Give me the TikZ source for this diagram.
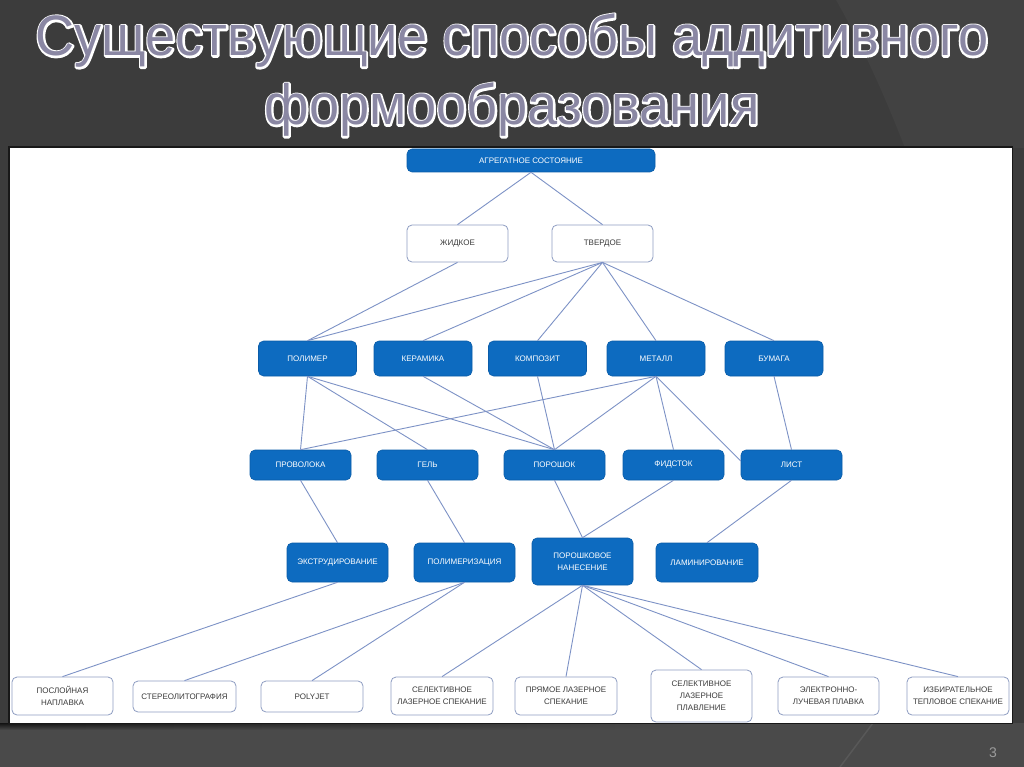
\documentclass[tikz,border=0pt]{standalone}
\usepackage{fontspec}
\setmainfont{Liberation Sans}
\newfontfamily\ttlfont[FakeStretch=0.95]{Liberation Sans}
\usetikzlibrary{calc,fadings}
\definecolor{bgdark}{HTML}{3C3C3C}
\definecolor{bgbottom}{HTML}{4A4A4A}
\definecolor{bgright}{HTML}{424242}
\definecolor{bfill}{HTML}{0D6BC0}
\definecolor{bdraw}{HTML}{0A5CA8}
\definecolor{wdraw}{HTML}{8E9DC2}
\definecolor{wtext}{HTML}{3A3A3A}
\definecolor{linkc}{HTML}{7D92C6}
\definecolor{ttlfill}{HTML}{8A87A3}
\definecolor{pagenum}{HTML}{9C9C9C}
\newcommand\strokedtext[1]{\special{pdf:literal direct 1 1 1 RG 3.6 w 1 j 1 Tr}#1\special{pdf:literal direct 0 Tr}}
\begin{document}
\begin{tikzpicture}[x=1pt,y=-1pt,
  nfont/.style={font=\fontsize{8}{12}\selectfont},
  wh/.style 2 args={minimum width=#1pt, minimum height=#2pt},
  bnode/.style={nfont, draw=bdraw, fill=bfill, text=white, rounded corners=5pt, align=center, inner sep=0pt, line width=0.6pt},
  wnode/.style={nfont, draw=wdraw, fill=white, text=wtext, rounded corners=5pt, align=center, inner sep=0pt, line width=0.8pt},
  link/.style={draw=linkc, line width=0.9pt},
  ttl/.style={font=\ttlfont\fontsize{57}{60}\selectfont, anchor=base, inner sep=0pt, text=ttlfill}
]
\useasboundingbox (0,0) rectangle (1024,767);
% background
\fill[bgdark] (0,0) rectangle (1024,767);
\fill[bgright] (836,0) .. controls (870,60) and (890,110) .. (905,148) -- (1024,148) -- (1024,0) -- cycle;
\fill[bgbottom] (0,723) rectangle (1024,767);
\shade[top color=black!75!bgbottom, bottom color=bgbottom, path fading=east] (0,723) rectangle (700,730);
\draw[white!8!bgbottom, line width=1.5pt] (873,723) -- (840,767);
% panel
\fill[black!60!bgdark] (8,146) rectangle (1013,724);
\fill[white] (10,148) rectangle (1012,723);
% title: white outline behind, lavender letters on top
\node[ttl] (t1o) at (512,56) {\strokedtext{Существующие способы аддитивного}};
\node[ttl] (t1) at (512,56) {Существующие способы аддитивного};
\node[ttl] (t2o) at (512,125) {\strokedtext{формообразования}};
\node[ttl] (t2) at (512,125) {формообразования};
% page number
\node[font=\fontsize{14}{14}\selectfont, text=pagenum, inner sep=0pt] (pg) at (993,753) {3};
% nodes
\node[bnode, wh={248}{23}] (agg) at (531,160.5) {АГРЕГАТНОЕ СОСТОЯНИЕ};
\node[wnode, wh={101}{37}] (liq) at (457.5,243.5) {ЖИДКОЕ};
\node[wnode, wh={101}{37}] (sol) at (602.5,243.5) {ТВЕРДОЕ};
\node[bnode, wh={98}{35}] (pol) at (307.5,358.5) {ПОЛИМЕР};
\node[bnode, wh={98}{35}] (cer) at (423,358.5) {КЕРАМИКА};
\node[bnode, wh={98}{35}] (com) at (537.5,358.5) {КОМПОЗИТ};
\node[bnode, wh={98}{35}] (met) at (656,358.5) {МЕТАЛЛ};
\node[bnode, wh={98}{35}] (pap) at (774,358.5) {БУМАГА};
\node[bnode, wh={101}{30}] (wire) at (300.5,465) {ПРОВОЛОКА};
\node[bnode, wh={101}{30}] (gel) at (427.5,465) {ГЕЛЬ};
\node[bnode, wh={101}{30}] (pow) at (554.5,465) {ПОРОШОК};
\node[bnode, wh={101}{30}] (feed) at (673.5,465) {ФИДСТОК};
\node[bnode, wh={101}{30}] (sheet) at (791.5,465) {ЛИСТ};
\node[bnode, wh={101}{39}] (ext) at (337.5,562.5) {ЭКСТРУДИРОВАНИЕ};
\node[bnode, wh={101}{39}] (plm) at (464.5,562.5) {ПОЛИМЕРИЗАЦИЯ};
\node[bnode, wh={101}{47}] (pn) at (582.5,561.5) {ПОРОШКОВОЕ\\НАНЕСЕНИЕ};
\node[bnode, wh={102}{39}] (lam) at (707,562.5) {ЛАМИНИРОВАНИЕ};
\node[wnode, wh={101}{38}] (fdm) at (62.5,696) {ПОСЛОЙНАЯ\\НАПЛАВКА};
\node[wnode, wh={103}{31}] (sla) at (184.5,696.5) {СТЕРЕОЛИТОГРАФИЯ};
\node[wnode, wh={102}{31}] (pj) at (312,696.5) {POLYJET};
\node[wnode, wh={102}{38}] (sls) at (442,696) {СЕЛЕКТИВНОЕ\\ЛАЗЕРНОЕ СПЕКАНИЕ};
\node[wnode, wh={102}{38}] (dls) at (566,696) {ПРЯМОЕ ЛАЗЕРНОЕ\\СПЕКАНИЕ};
\node[wnode, wh={101}{52}] (slm) at (701.5,696) {СЕЛЕКТИВНОЕ\\ЛАЗЕРНОЕ\\ПЛАВЛЕНИЕ};
\node[wnode, wh={101}{38}] (ebm) at (828.5,696) {ЭЛЕКТРОННО-\\ЛУЧЕВАЯ ПЛАВКА};
\node[wnode, wh={102}{38}] (shs) at (958,696) {ИЗБИРАТЕЛЬНОЕ\\ТЕПЛОВОЕ СПЕКАНИЕ};
% connectors
\draw[link] (agg.south) -- (liq.north);
\draw[link] (agg.south) -- (sol.north);
\draw[link] (liq.south) -- (pol.north);
\foreach \n in {pol,cer,com,met,pap} \draw[link] (sol.south) -- (\n.north);
\foreach \n in {wire,gel,pow} \draw[link] (pol.south) -- (\n.north);
\draw[link] (cer.south) -- (pow.north);
\draw[link] (com.south) -- (pow.north);
\foreach \n in {wire,pow,feed} \draw[link] (met.south) -- (\n.north);
\draw[link] (met.south) -- ([yshift=4pt]sheet.west);
\draw[link] (pap.south) -- (sheet.north);
\draw[link] (wire.south) -- (ext.north);
\draw[link] (gel.south) -- (plm.north);
\draw[link] (pow.south) -- (pn.north);
\draw[link] (feed.south) -- (pn.north);
\draw[link] (sheet.south) -- (lam.north);
\draw[link] (ext.south) -- (fdm.north);
\draw[link] (plm.south) -- (sla.north);
\draw[link] (plm.south) -- (pj.north);
\foreach \n in {sls,dls,slm,ebm,shs} \draw[link] (pn.south) -- (\n.north);
\end{tikzpicture}
\end{document}
